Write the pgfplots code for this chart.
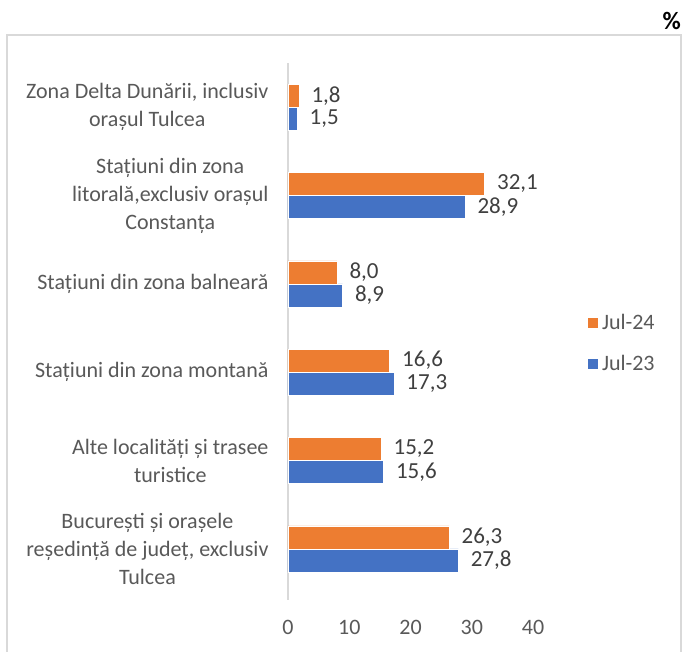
\documentclass[border=0pt]{standalone}
\usepackage{pgfplots}
\pgfplotsset{compat=1.18}
\usepackage{fontspec}
\setmainfont{Carlito}
\definecolor{cOr}{HTML}{ED7D31}
\definecolor{cBl}{HTML}{4472C4}
\definecolor{txt}{HTML}{595959}
\definecolor{lab}{HTML}{404040}
\definecolor{frm}{HTML}{D9D9D9}
\begin{document}
\begin{tikzpicture}
\useasboundingbox (0pt,0pt) rectangle (683pt,652pt);
\fill[white] (0pt,0pt) rectangle (683pt,652pt);
\draw[frm, line width=1.2pt] (7pt,-5pt) -- (7pt,617pt) -- (681pt,617pt) -- (681pt,-5pt);
\node[font=\fontsize{25}{28}\selectfont\bfseries, anchor=east, inner sep=0pt] at (681pt,631pt) {\%};
\begin{axis}[
  at={(288pt,52pt)}, anchor=south west,
  scale only axis, width=245pt, height=537pt,
  xmin=0, xmax=40, ymin=-0.58, ymax=5.5,
  xtick={0,10,20,30,40},
  ytick={0,1,2,3,4,5},
  yticklabels={{București și orașele\\reședință de județ, exclusiv\\Tulcea},
               {Alte localități și trasee\\turistice},
               {Stațiuni din zona montană},
               {Stațiuni din zona balneară},
               {Stațiuni din zona\\litorală,exclusiv orașul\\Constanța},
               {Zona Delta Dunării, inclusiv\\orașul Tulcea}},
  yticklabel style={align=center, font=\fontsize{22}{28}\selectfont, text=txt, xshift=-16pt},
  xticklabel style={font=\fontsize{22}{24}\selectfont, text=txt, yshift=-17pt},
  /pgf/number format/assume math mode=true,
  axis lines*=left,
  x axis line style={draw=none},
  y axis line style={draw=frm, line width=1.2pt},
  major tick length=0pt,
  xbar, bar width=23pt,
  clip=false,
  nodes near coords,
  nodes near coords style={font=\fontsize{23}{26}\selectfont, text=lab, anchor=west, xshift=9pt,
     /pgf/number format/.cd, fixed, fixed zerofill, precision=1, use comma},
  legend style={at={(1.218,0.478)}, anchor=west, draw=none, fill=none,
     font=\fontsize{22}{24}\selectfont, text=txt, row sep=20pt, inner sep=0pt,
     /tikz/every even column/.append style={column sep=0pt}},
  legend image code/.code={\fill[#1] (0pt,-5.5pt) rectangle (11pt,5.5pt);},
  legend cell align=left,
  reverse legend,
]
\addplot[fill=cBl, draw=white, line width=0.4pt, bar shift=-11.5pt] coordinates {(27.8,0) (15.6,1) (17.3,2) (8.9,3) (28.9,4) (1.5,5)};
\addlegendentry{\hspace{2pt}Jul-23}
\addplot[fill=cOr, draw=white, line width=0.4pt, bar shift=11.5pt] coordinates {(26.3,0) (15.2,1) (16.6,2) (8.0,3) (32.1,4) (1.8,5)};
\addlegendentry{\hspace{2pt}Jul-24}
\end{axis}
\end{tikzpicture}
\end{document}
